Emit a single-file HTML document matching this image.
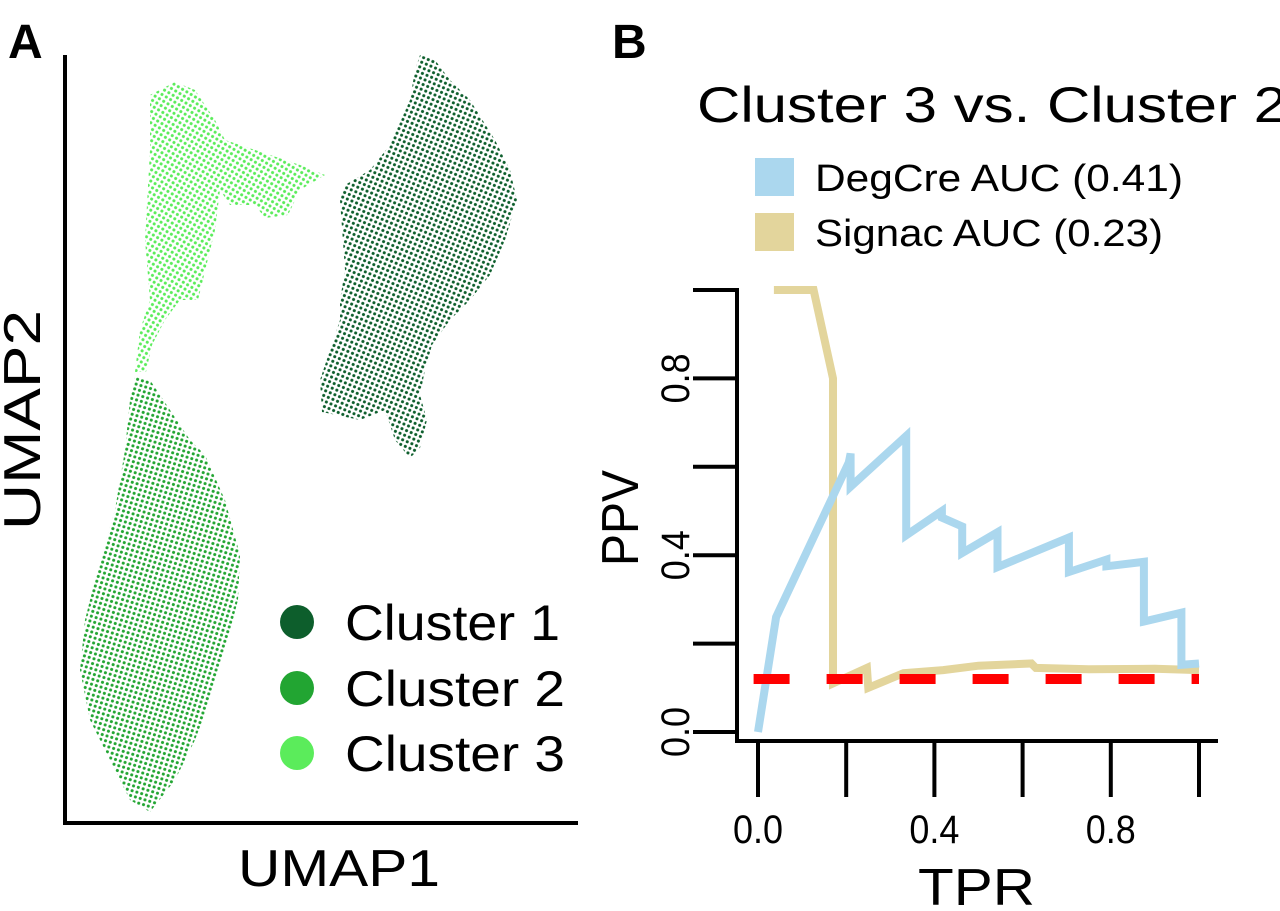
<!DOCTYPE html>
<html><head><meta charset="utf-8"><style>
html,body{margin:0;padding:0;background:#fff;}
svg{display:block;font-family:"Liberation Sans",Arial,sans-serif;}
</style></head><body>
<svg id="fig" width="1280" height="911" viewBox="0 0 1280 911">
<defs>
<pattern id="d1" width="5" height="5" patternUnits="userSpaceOnUse" patternTransform="rotate(23)"><circle cx="2.5" cy="2.5" r="1.55" fill="#0d5e2c"/></pattern>
<pattern id="d2" width="5" height="5" patternUnits="userSpaceOnUse" patternTransform="rotate(17)"><circle cx="2.5" cy="2.5" r="1.55" fill="#22a532"/></pattern>
<pattern id="d3" width="5" height="5" patternUnits="userSpaceOnUse" patternTransform="rotate(31)"><circle cx="2.5" cy="2.5" r="1.55" fill="#5bec5b"/></pattern>
</defs>
<g>
<text x="8" y="58" font-size="48" font-weight="bold">A</text>
<polygon fill="url(#d3)" points="150,95 175,82 195,90 215,120 225,140 240,145 270,155 300,165 325,175 300,190 288,215 265,218 255,205 230,205 220,190 215,230 198,300 180,300 165,320 152,345 146,372 135,372 140,330 150,300 145,240 150,150 150,120"/>
<polygon fill="url(#d2)" points="135,375 150,380 170,410 190,440 205,455 225,500 240,555 238,600 225,650 210,700 195,740 175,780 150,812 130,800 110,760 90,720 80,670 85,620 100,560 115,510 125,450 130,400"/>
<polygon fill="url(#d1)" points="420,55 435,60 450,80 470,100 495,140 510,170 517,200 505,240 490,275 470,300 450,320 432,345 425,370 420,395 427,420 420,448 410,458 395,440 385,410 360,420 322,412 320,380 330,350 340,320 340,300 345,270 340,200 345,185 370,170 390,145 410,100 415,70"/>
<line x1="65" y1="55" x2="65" y2="825" stroke="#000" stroke-width="4"/>
<line x1="63" y1="823" x2="578" y2="823" stroke="#000" stroke-width="4"/>
<text x="238" y="886" font-size="52" textLength="202" lengthAdjust="spacingAndGlyphs">UMAP1</text>
<text transform="translate(40,530) rotate(-90)" font-size="52" textLength="220" lengthAdjust="spacingAndGlyphs">UMAP2</text>
<g>
<circle cx="297" cy="622" r="17" fill="#0d5e2c"/>
<text x="345" y="640" font-size="50" textLength="215" lengthAdjust="spacingAndGlyphs">Cluster 1</text>
<circle cx="297" cy="688" r="17" fill="#22a532"/>
<text x="345" y="706" font-size="50" textLength="220" lengthAdjust="spacingAndGlyphs">Cluster 2</text>
<circle cx="297" cy="753" r="17" fill="#5bec5b"/>
<text x="345" y="771" font-size="50" textLength="220" lengthAdjust="spacingAndGlyphs">Cluster 3</text>
</g>
</g>
<g id="pb">
<text x="612" y="58" font-size="48" font-weight="bold">B</text>
<text x="697" y="122" font-size="50" textLength="590" lengthAdjust="spacingAndGlyphs">Cluster 3 vs. Cluster 2</text>
<rect x="755" y="158" width="39" height="38" fill="#abd7ee"/>
<text x="815" y="191" font-size="38" textLength="368" lengthAdjust="spacingAndGlyphs">DegCre AUC (0.41)</text>
<rect x="755" y="213" width="39" height="38" fill="#e3d59c"/>
<text x="815" y="246" font-size="38" textLength="348" lengthAdjust="spacingAndGlyphs">Signac AUC (0.23)</text>
</g>
</svg>
<script>
const xTicks=[0,0.2,0.4,0.6,0.8,1.0];
const xTickLabels=["0.0","","0.4","","0.8",""];
const yTicks=[0,0.2,0.4,0.6,0.8,1.0];
const yTickLabels=["0.0","","0.4","","0.8",""];
const degcreTPR=[0,0.041,0.206,0.21,0.21,0.336,0.336,0.417,0.417,0.463,0.463,0.543,0.543,0.705,0.705,0.79,0.79,0.875,0.875,0.96,0.96,1.0];
const degcrePPV=[0,0.26,0.61,0.63,0.555,0.67,0.445,0.50,0.485,0.465,0.405,0.452,0.373,0.44,0.362,0.39,0.375,0.385,0.25,0.27,0.152,0.155];
const signacTPR=[0.036,0.126,0.17,0.17,0.247,0.25,0.33,0.42,0.5,0.62,0.63,0.75,0.9,1.0];
const signacPPV=[1.0,1.0,0.80,0.11,0.145,0.10,0.133,0.14,0.15,0.155,0.145,0.142,0.143,0.14];
const baselinePPV=0.12;
const NS="http://www.w3.org/2000/svg";
const g=document.getElementById('pb');
function X(t){return 758+t*441;}
function Y(p){return 732-p*442;}
function mk(tag,attrs){const e=document.createElementNS(NS,tag);for(const k in attrs)e.setAttribute(k,attrs[k]);g.appendChild(e);return e;}
let e;
e=mk('line',{x1:737,y1:Y(1)-2,x2:737,y2:743,stroke:'#000','stroke-width':4});


e=mk('line',{x1:735,y1:741,x2:1218,y2:741,stroke:'#000','stroke-width':4});


yTicks.forEach((v,i)=>{
 e=mk('line',{x1:693,y1:Y(v),x2:737,y2:Y(v),stroke:'#000','stroke-width':4});
 
 
 if(yTickLabels[i]){
  e=mk('text',{transform:`translate(689,${Y(v)}) rotate(-90)`,'font-size':40,'text-anchor':'middle',textLength:50,lengthAdjust:'spacingAndGlyphs'});
  e.textContent=yTickLabels[i];
  
  
 }
});
xTicks.forEach((v,i)=>{
 e=mk('line',{x1:X(v),y1:741,x2:X(v),y2:797,stroke:'#000','stroke-width':4});
 
 
 if(xTickLabels[i]){
  e=mk('text',{x:X(v),y:843,'font-size':40,'text-anchor':'middle',textLength:50,lengthAdjust:'spacingAndGlyphs'});
  e.textContent=xTickLabels[i];
  
  
 }
});
e=mk('text',{x:918,y:905,'font-size':52,textLength:117,lengthAdjust:'spacingAndGlyphs'});
e.textContent='TPR';


e=mk('text',{transform:'translate(638,566) rotate(-90)','font-size':52,textLength:96,lengthAdjust:'spacingAndGlyphs'});
e.textContent='PPV';


function pts(xs,ys){return xs.map((t,i)=>X(t).toFixed(1)+','+Y(ys[i]).toFixed(1)).join(' ');}
e=mk('polyline',{points:pts(signacTPR,signacPPV),fill:'none',stroke:'#e3d59c','stroke-width':8,'stroke-linejoin':'miter'});


e=mk('polyline',{points:pts(degcreTPR,degcrePPV),fill:'none',stroke:'#abd7ee','stroke-width':8,'stroke-linejoin':'miter'});


e=mk('line',{x1:X(-0.01),y1:Y(baselinePPV),x2:X(1.0),y2:Y(baselinePPV),stroke:'#ff0000','stroke-width':10,'stroke-dasharray':'36 37'});


</script>
</body></html>
